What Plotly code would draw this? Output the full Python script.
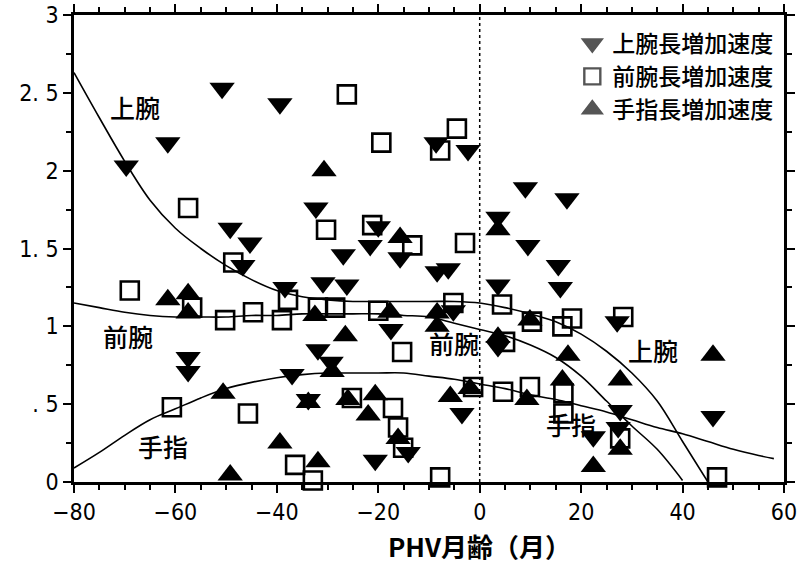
import plotly.graph_objects as go

# ---- fitted curves (PHV month vs. growth velocity) ----
upper_curve_x = [-80, -75, -70, -65, -60, -55, -50, -45, -40, -35, -30, -25, -20, -15,
                 -10, -5, 0, 5, 10, 15, 20, 25, 30, 35, 40, 45]
upper_curve_y = [2.63, 2.34, 2.06, 1.81, 1.63, 1.50, 1.39, 1.30, 1.23, 1.19, 1.17, 1.16,
                 1.16, 1.16, 1.16, 1.16, 1.15, 1.12, 1.08, 1.03, 0.95, 0.84, 0.70, 0.52,
                 0.26, 0.0]

fore_curve_x = [-80, -75, -70, -65, -60, -55, -50, -45, -40, -35, -30, -25, -20, -15,
                -10, -5, 0, 5, 10, 15, 20, 25, 30, 35, 40]
fore_curve_y = [1.15, 1.12, 1.09, 1.07, 1.06, 1.06, 1.06, 1.07, 1.07, 1.08, 1.08, 1.08,
                1.08, 1.07, 1.06, 1.02, 0.98, 0.94, 0.88, 0.80, 0.68, 0.52, 0.36, 0.21,
                0.01]

hand_curve_x = [-80, -75, -70, -65, -60, -55, -50, -45, -40, -35, -30, -25, -20, -15,
                -10, -5, 0, 5, 10, 15, 20, 25, 30, 35, 40, 45, 50, 55, 58]
hand_curve_y = [0.09, 0.19, 0.30, 0.40, 0.47, 0.54, 0.60, 0.64, 0.67, 0.69, 0.70, 0.70,
                0.70, 0.70, 0.68, 0.66, 0.63, 0.60, 0.56, 0.53, 0.49, 0.45, 0.40, 0.35,
                0.31, 0.26, 0.21, 0.17, 0.15]

# ---- individual observations ----
upper_x = [-69.7, -61.5, -50.8, -39.4, -49.2, -45.3, -46.7, -57.5, -57.5, -32.3,
           -38.4, -30.9, -26.9, -26.2, -31.9, -29.3, -37.0, -33.8, -20.0, -21.6,
           -15.7, -8.4, -6.2, -17.5, -8.6, -2.3, -5.2, -3.5, -14.1, -20.6,
           9.0, 17.2, 3.6, 9.5, 15.5, 15.9, 3.6, 27.1, 3.6, 27.7,
           27.3, 22.4, 46.0]
upper_y = [2.03, 2.18, 2.53, 2.43, 1.63, 1.535, 1.39, 0.80, 0.71, 1.76,
           1.25, 1.28, 1.46, 1.265, 0.85, 0.77, 0.69, 0.53, 1.64, 1.52,
           1.44, 1.35, 1.37, 0.98, 2.18, 2.13, 1.10, 0.44, 0.19, 0.14,
           1.89, 1.82, 1.70, 1.52, 1.39, 1.25, 1.265, 1.03, 0.87, 0.46,
           0.35, 0.29, 0.42]

fore_x = [-69.0, -57.5, -56.7, -60.7, -48.6, -50.2, -44.7, -39.0, -37.8, -45.7,
          -36.4, -32.9, -31.9, -28.5, -26.2, -19.4, -4.5, -7.8, -30.3, -21.2,
          -13.3, -2.9, -20.0, -15.3, -5.2, -25.2, -17.1, -16.1, -15.1, -7.8,
          -1.3, 4.4, 10.3, 18.2, 16.3, 28.3, 5.0, 16.5, 4.6, 9.9,
          16.5, 27.7, 46.8]
fore_y = [1.23, 1.76, 1.12, 0.48, 1.41, 1.04, 1.09, 1.04, 1.17, 0.44,
          0.11, 0.01, 1.12, 1.12, 2.49, 2.18, 2.27, 2.13, 1.62, 1.65,
          1.52, 1.535, 1.10, 0.835, 1.15, 0.54, 0.475, 0.35, 0.22, 0.03,
          0.61, 1.14, 1.03, 1.05, 1.00, 1.06, 0.90, 0.57, 0.58, 0.61,
          0.44, 0.28, 0.03]

hand_x = [-61.5, -57.5, -57.5, -50.6, -49.2, -39.4, -31.9, -33.8, -29.1, -30.7,
          -32.5, -26.5, -15.7, -17.7, -8.4, -8.4, -26.0, -20.6, -22.0, -16.1,
          -5.8, -1.9, 3.6, 9.9, 17.4, 46.0, 3.6, 16.3, 9.3, 27.7,
          27.7, 22.4]
hand_y = [1.17, 1.21, 1.085, 0.57, 0.045, 0.25, 0.13, 0.51, 0.71, 2.0,
          1.07, 0.94, 1.57, 1.09, 1.085, 1.0, 0.53, 0.56, 0.43, 0.28,
          0.55, 0.60, 1.62, 1.04, 0.815, 0.815, 0.93, 0.655, 0.53, 0.655,
          0.21, 0.10]

legend_names = ["上腕長増加速度", "前腕長増加速度", "手指長増加速度"]

x_ticks = [-80, -60, -40, -20, 0, 20, 40, 60]
y_ticks = [0, 0.5, 1, 1.5, 2, 2.5, 3]
y_tick_text = ["0", ". 5", "1", "1. 5", "2", "2. 5", "3"]

x_title = "PHV月齢（月）"

# curve labels: (text, x, y)
curve_labels = [("上腕", -68.0, 2.41), ("前腕", -69.3, 0.94), ("手指", -62.4, 0.23),
                ("前腕", -5.0, 0.89), ("上腕", 34.2, 0.85), ("手指", 18.0, 0.37)]

JP = "Noto Sans CJK JP"
NUM = "Liberation Sans Narrow, DejaVu Sans Condensed, Liberation Sans, sans-serif"

fig = go.Figure()

for cx, cy in [(upper_curve_x, upper_curve_y), (fore_curve_x, fore_curve_y),
               (hand_curve_x, hand_curve_y)]:
    fig.add_trace(go.Scatter(x=cx, y=cy, mode="lines", line=dict(color="black", width=1.6),
                             line_shape="spline", showlegend=False, hoverinfo="skip"))

fig.add_trace(go.Scatter(x=upper_x, y=upper_y, mode="markers", showlegend=False,
                         cliponaxis=False,
                         marker=dict(symbol="triangle-down", size=22, color="black",
                                     line=dict(width=0))))
fig.add_trace(go.Scatter(x=fore_x, y=fore_y, mode="markers", showlegend=False,
                         cliponaxis=False,
                         marker=dict(symbol="square-open", size=18, color="black",
                                     line=dict(width=2.6, color="black"))))
fig.add_trace(go.Scatter(x=hand_x, y=hand_y, mode="markers", showlegend=False,
                         cliponaxis=False,
                         marker=dict(symbol="triangle-up", size=22, color="black",
                                     line=dict(width=0))))

# legend entries
for name, sym in zip(legend_names, ["triangle-down", "square-open", "triangle-up"]):
    fig.add_trace(go.Scatter(x=[None], y=[None], mode="markers", name=name,
                             marker=dict(symbol=sym, size=16, color="#555555",
                                         line=dict(width=2.4, color="#555555"))))

for text, lx, ly in curve_labels:
    fig.add_annotation(x=lx, y=ly, text=text, showarrow=False,
                       font=dict(family=JP, size=25, color="black", weight=500))

# x-axis title, centred under the PHV line
fig.add_annotation(x=0, xref="x", y=(482 - 545.5) / 467, yref="paper", text=x_title,
                   showarrow=False, yanchor="middle",
                   font=dict(family=JP, size=26, color="black", weight="bold"))

# PHV reference line
fig.add_shape(type="line", x0=0, x1=0, y0=0, y1=3, xref="x", yref="y",
              line=dict(color="black", width=1.5, dash="dot"))

axis_common = dict(showgrid=False, zeroline=False, showline=True, linecolor="black",
                   linewidth=2.5, mirror="ticks", ticks="outside", ticklen=8,
                   tickwidth=2, tickcolor="black", automargin=False,
                   ticklabeloverflow="allow",
                   tickfont=dict(family=NUM, size=23, color="black"))

fig.update_xaxes(range=[-80, 60], tickvals=x_ticks,
                 minor=dict(dtick=5, ticks="outside", ticklen=5, tickwidth=1.5,
                            tickcolor="black"),
                 **axis_common)
fig.update_yaxes(range=[0, 3], tickvals=y_ticks, ticktext=y_tick_text,
                 minor=dict(dtick=0.25, ticks="outside", ticklen=5, tickwidth=1.5,
                            tickcolor="black"),
                 **axis_common)

fig.update_layout(
    width=798, height=563,
    margin=dict(l=74, r=14, t=15, b=81),
    plot_bgcolor="white", paper_bgcolor="white",
    legend=dict(x=0.992, y=0.985, xanchor="right", yanchor="top",
                bgcolor="rgba(0,0,0,0)", borderwidth=0,
                font=dict(family=JP, size=23, color="black", weight=500),
                itemwidth=30, tracegroupgap=0),
)

fig.write_html("out.html")
